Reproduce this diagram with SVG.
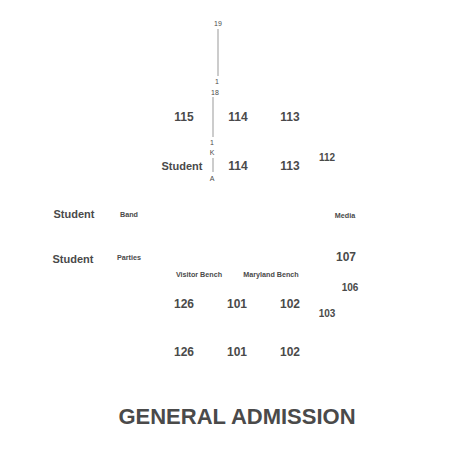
<svg xmlns="http://www.w3.org/2000/svg" width="474" height="469" viewBox="0 0 474 469">
<style>
text{font-family:"Liberation Sans",Arial,sans-serif;font-weight:bold;fill:#4a4a4a;text-anchor:middle;dominant-baseline:central}
.xs{font-size:7px;font-weight:normal}
.s{font-size:7.2px}
.m{font-size:10px}
.l{font-size:12px}
.st{font-size:11px}
.xl{font-size:22px}
.ln{stroke:#999;stroke-width:1;fill:none}
</style>
<rect width="474" height="469" fill="#fff"/>
<g id="connectors">
<line class="ln" x1="218" y1="29" x2="218" y2="76"/>
<line class="ln" x1="213" y1="97" x2="213" y2="137"/>
<line class="ln" x1="213" y1="158" x2="213" y2="172"/>
</g>
<g id="markers">
<text class="xs" x="218" y="23">19</text>
<text class="xs" x="217" y="81">1</text>
<text class="xs" x="215" y="92">18</text>
<text class="xs" x="212" y="142">1</text>
<text class="xs" x="212" y="152">K</text>
<text class="xs" x="212" y="178">A</text>
</g>
<g id="upper"><text class="l" x="184" y="117">115</text><text class="l" x="238" y="117">114</text><text class="l" x="290" y="117">113</text></g>
<g id="middle"><text class="st" x="182" y="166">Student</text><text class="l" x="238" y="166">114</text><text class="l" x="290" y="166">113</text><text class="m" x="327" y="157">112</text></g>
<g id="student1"><text class="st" x="74" y="214">Student</text><text class="s" x="129" y="214">Band</text></g>
<g id="media"><text class="s" x="345" y="215">Media</text></g>
<g id="student2"><text class="st" x="73" y="259">Student</text><text class="s" x="129" y="257">Parties</text></g>
<g id="s107"><text class="l" x="346" y="257">107</text></g>
<g id="benches"><text class="s" x="199" y="274">Visitor Bench</text><text class="s" x="271" y="274">Maryland Bench</text></g>
<g id="s106"><text class="m" x="350" y="287">106</text></g>
<g id="lower1"><text class="l" x="184" y="304">126</text><text class="l" x="237" y="304">101</text><text class="l" x="290" y="304">102</text><text class="m" x="327" y="313">103</text></g>
<g id="lower2"><text class="l" x="184" y="352">126</text><text class="l" x="237" y="352">101</text><text class="l" x="290" y="352">102</text></g>
<g id="ga"><text class="xl" x="237" y="416">GENERAL ADMISSION</text></g>
</svg>
